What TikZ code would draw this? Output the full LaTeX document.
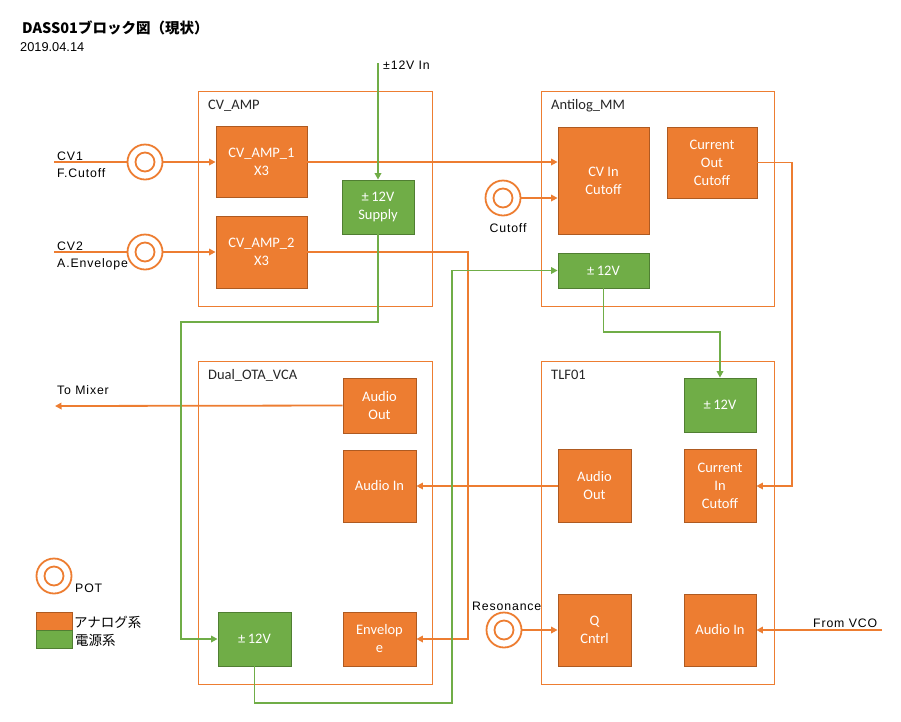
\documentclass[tikz,border=0pt]{standalone}
\usepackage{fontspec}
\setmainfont{Carlito}
\newfontfamily\lblfont[LetterSpace=7]{Liberation Sans}
\newfontfamily\datefont{Liberation Sans}
\newfontfamily\jpfont{Noto Sans CJK JP}
\usetikzlibrary{arrows.meta}
\definecolor{org}{HTML}{ED7D31}
\definecolor{orgd}{HTML}{AE5A21}
\definecolor{grn}{HTML}{70AD47}
\definecolor{grnd}{HTML}{507E32}
\begin{document}
\begin{tikzpicture}[x=1pt,y=-1pt,
  sz/.style 2 args={minimum width=#1pt, minimum height=#2pt},
  blk/.style={draw=orgd, fill=org, line width=0.8pt, text=white, align=center,
    inner sep=0pt, font=\fontsize{14.5}{18}\selectfont},
  pwr/.style={blk, draw=grnd, fill=grn},
  frame/.style={draw=org, line width=1pt},
  ftitle/.style={anchor=base west, inner sep=0pt, text=black!85, font=\fontsize{14.5}{18}\selectfont},
  lbl/.style={anchor=base west, inner sep=0pt, font=\lblfont\fontsize{12.3}{14}\selectfont},
  sig/.style={draw=org, line width=1.8pt},
  pw/.style={draw=grn, line width=1.8pt},
  arr/.style={-{Triangle[length=6.5pt,width=6.5pt]}},
  pot/.style={circle, draw=org, line width=1.8pt, minimum size=35pt, inner sep=0pt,
    path picture={\draw[org, line width=1.8pt] (path picture bounding box.center) circle[radius=9.5pt];}},
]
\useasboundingbox (0,0) rectangle (901,721);

% title
\node[anchor=base west, inner sep=0pt, font=\jpfont\bfseries\fontsize{14.5}{18}\selectfont] (title) at (22,33) {DASS01ブロック図（現状）};
\node[anchor=base west, inner sep=0pt, font=\datefont\fontsize{12.8}{14}\selectfont] (date) at (20,51) {2019.04.14};

% module frames
\draw[frame] (198,91) rectangle (432,306);
\draw[frame] (541,91) rectangle (774,306);
\draw[frame] (198,361) rectangle (432,684);
\draw[frame] (541,361) rectangle (774,684);
\node[ftitle] (fcv) at (208,109) {CV\_AMP};
\node[ftitle] (fant) at (551,109) {Antilog\_MM};
\node[ftitle] (fota) at (208,379) {Dual\_OTA\_VCA};
\node[ftitle] (ftlf) at (551,379) {TLF01};

% CV_AMP
\node[blk, sz={91}{71}] (amp1) at (261.5,162) {CV\_AMP\_1\\X3};
\node[blk, sz={91}{72}] (amp2) at (261.5,252) {CV\_AMP\_2\\X3};
\node[pwr, sz={72}{54}] (supply) at (378,207) {±\,12V\\Supply};

% Antilog_MM
\node[blk, sz={91}{107}] (cvin) at (603.5,180.5) {CV In\\Cutoff};
\node[blk, sz={90}{71}] (curout) at (712,162.5) {Current\\Out\\Cutoff};
\node[pwr, sz={91}{35}] (ant12) at (603.5,270.5) {±\,12V};

% Dual_OTA_VCA
\node[blk, sz={73}{55}] (dAout) at (379.5,405.5) {Audio\\Out};
\node[blk, sz={73}{72}] (dAin) at (379.5,486) {Audio In};
\node[blk, sz={73}{54}] (denv) at (379.5,639) {Envelop\\e};
\node[pwr, sz={73}{54}] (d12) at (254.5,639) {±\,12V};

% TLF01
\node[pwr, sz={72}{54}] (t12) at (720,405) {±\,12V};
\node[blk, sz={72}{73}] (tcin) at (720,486) {Current\\In\\Cutoff};
\node[blk, sz={73}{73}] (taout) at (594.5,486) {Audio\\Out};
\node[blk, sz={73}{72}] (q) at (594.5,630) {Q\\Cntrl};
\node[blk, sz={72}{72}] (tain) at (720,630) {Audio In};

% pots
\node[pot] (pot1) at (145,162) {};
\node[pot] (pot2) at (145,252) {};
\node[pot] (pot3) at (503,198) {};
\node[pot] (pot4) at (504,630) {};

% free ends and bends
\coordinate (cv1in) at (54,162);
\coordinate (cv2in) at (54,252);
\coordinate (tomix) at (55,406);
\coordinate (vco) at (882,630);
\coordinate (vin) at (378,63);
\coordinate (bendA) at (468,0);
\coordinate (bendB) at (792,0);
\coordinate (gA) at (181,322);
\coordinate (gB) at (452,703);
\coordinate (gC) at (662,332);

% signal lines
\draw[sig] (cv1in) -- (pot1);
\draw[sig,arr] (pot1) -- (pot1 -| amp1.west);
\draw[sig] (cv2in) -- (pot2);
\draw[sig,arr] (pot2) -- (pot2 -| amp2.west);
\draw[sig,arr] (amp1.east) -- (amp1.east -| cvin.west);
\draw[sig,arr] (pot3) -- (pot3 -| cvin.west);
\draw[sig,arr] (amp2.east) -- (amp2.east -| bendA) |- (denv.east);
\draw[sig,arr] (curout.east) -- (curout.east -| bendB) |- (tcin.east);
\draw[sig,arr] (taout.west) -- (dAin.east);
\draw[sig,arr] (dAout.west) -- (tomix);
\draw[sig,arr] (pot4) -- (q.west);
\draw[sig,arr] (vco) -- (tain.east);

% power lines
\draw[pw,arr] (vin) -- (supply.north);
\draw[pw,arr] (supply.south) |- (gA) |- (d12.west);
\draw[pw,arr] (d12.south) |- (gB) |- (ant12.west);
\draw[pw,arr] (ant12.south) |- (gC) -| (t12.north);

% labels
\node[lbl] (lvin) at (383,69) {±12V In};
\node[lbl] (lcv1) at (57,160) {CV1};
\node[lbl] (lcv1b) at (57,177) {F.Cutoff};
\node[lbl] (lcv2) at (57,250) {CV2};
\node[lbl] (lcv2b) at (57,267) {A.Envelope};
\node[lbl, anchor=base] (lcut) at (508,232) {Cutoff};
\node[lbl] (lres) at (472,610) {Resonance};
\node[lbl] (lvco) at (813,627) {From VCO};
\node[lbl] (lmix) at (57,394) {To Mixer};

% legend
\node[pot] (lgpot) at (54,576) {};
\node[lbl] (lgpott) at (75,592) {POT};
\draw[draw=orgd, fill=org, line width=0.8pt] (36,612) rectangle (72,630);
\draw[draw=grnd, fill=grn, line width=0.8pt] (36,630) rectangle (72,648);
\node[anchor=base west, inner sep=0pt, font=\jpfont\fontsize{13.5}{16}\selectfont] (lgana) at (74,627) {アナログ系};
\node[anchor=base west, inner sep=0pt, font=\jpfont\fontsize{13.5}{16}\selectfont] (lgpwr) at (75,645) {電源系};
\end{tikzpicture}
\end{document}
